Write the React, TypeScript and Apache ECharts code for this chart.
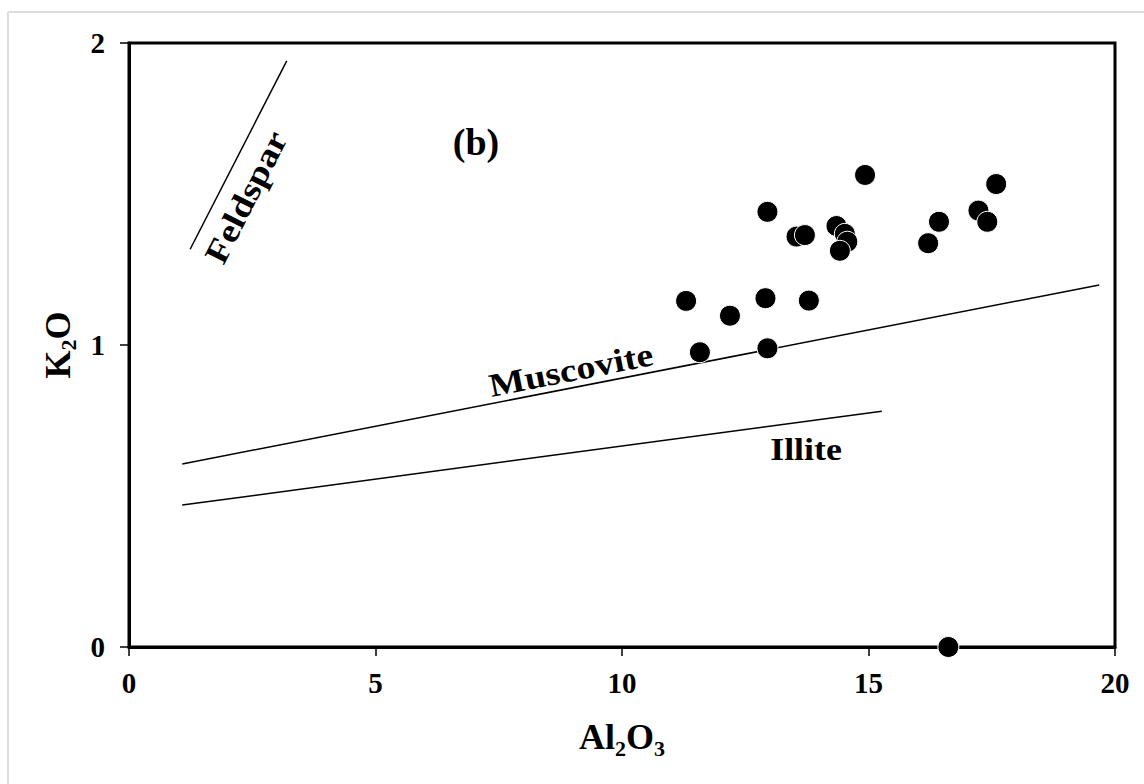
import React, { useEffect, useRef } from "react";
import * as echarts from "echarts";

// Sample points (Al2O3 vs K2O)
const al2o3 = [11.30, 11.58, 12.19, 12.91, 12.95, 12.95, 13.54, 13.71, 13.79, 14.35, 14.52, 14.57, 14.42, 14.93, 16.21, 16.43, 17.23, 17.41, 17.59, 16.62];
const k2o = [1.146, 0.976, 1.097, 1.155, 1.441, 0.989, 1.359, 1.364, 1.147, 1.394, 1.368, 1.342, 1.312, 1.563, 1.337, 1.408, 1.445, 1.408, 1.533, 0];

// Reference mineral lines
const feldsparX = [1.24, 3.2];
const feldsparY = [1.317, 1.941];
const muscoviteX = [1.08, 19.68];
const muscoviteY = [0.606, 1.199];
const illiteX = [1.08, 15.27];
const illiteY = [0.47, 0.781];

const xTicks = [0, 5, 10, 15, 20];
const yTicks = [0, 1, 2];

const FONT = '"Liberation Serif", "Times New Roman", serif';

const pairs = (xs: number[], ys: number[]) => xs.map((x, i) => [x, ys[i]]);

export default function App() {
  const ref = useRef<HTMLDivElement>(null);
  useEffect(() => {
    document.body.style.margin = "0";
    const chart = echarts.init(ref.current!, null, { renderer: "svg" });
    const lineSeries = (name: string, xs: number[], ys: number[]) => ({
      name,
      type: "line",
      data: pairs(xs, ys),
      symbol: "none",
      lineStyle: { color: "#000", width: 1.5 },
      silent: true,
      z: 1,
    });
    const richName = {
      m: { fontFamily: FONT, fontWeight: "bold", fontSize: 36, color: "#000", lineHeight: 36, verticalAlign: "top" },
      s: { fontFamily: FONT, fontWeight: "bold", fontSize: 22, color: "#000", lineHeight: 58 },
    };
    const labelText = (text: string, x: number, y: number, size: number, rot: number, sx = 1) => ({
      type: "text",
      x,
      y,
      rotation: (rot * Math.PI) / 180,
      scaleX: sx,
      z: 10,
      style: {
        text,
        fill: "#000",
        font: `bold ${size}px ${FONT}`,
        align: "center",
        verticalAlign: "middle",
      },
    });
    chart.setOption({
      animation: false,
      backgroundColor: "#fff",
      grid: {
        left: 129,
        top: 43,
        right: 29,
        bottom: 137,
        show: true,
        borderColor: "#000",
        borderWidth: 3,
      },
      xAxis: {
        type: "value",
        min: xTicks[0],
        max: xTicks[xTicks.length - 1],
        interval: 5,
        name: "{m|Al}{s|2}{m|O}{s|3}",
        nameLocation: "middle",
        nameGap: 72,
        nameTextStyle: { rich: richName },
        axisLine: { show: true, onZero: false, lineStyle: { color: "#000", width: 3 } },
        axisTick: { show: true, length: 9, lineStyle: { color: "#000", width: 1.5 } },
        splitLine: { show: false },
        axisLabel: { fontFamily: FONT, fontWeight: "bold", fontSize: 29, color: "#000", margin: 21 },
      },
      yAxis: {
        type: "value",
        min: yTicks[0],
        max: yTicks[yTicks.length - 1],
        interval: 1,
        name: "{m|K}{s|2}{m|O}",
        nameLocation: "middle",
        nameRotate: 90,
        nameGap: 25,
        nameTextStyle: { rich: richName },
        axisLine: { show: true, onZero: false, lineStyle: { color: "#000", width: 3 } },
        axisTick: { show: true, length: 9, lineStyle: { color: "#000", width: 1.5 } },
        splitLine: { show: false },
        axisLabel: { fontFamily: FONT, fontWeight: "bold", fontSize: 29, color: "#000", margin: 24 },
      },
      series: [
        lineSeries("Feldspar", feldsparX, feldsparY),
        lineSeries("Muscovite", muscoviteX, muscoviteY),
        lineSeries("Illite", illiteX, illiteY),
        {
          name: "Samples",
          type: "scatter",
          data: pairs(al2o3, k2o),
          symbol: "circle",
          symbolSize: 21,
          clip: false,
          itemStyle: { color: "#000", borderColor: "#fff", borderWidth: 1, opacity: 1 },
          z: 5,
        },
      ],
      graphic: [
        { type: "line", shape: { x1: 8, y1: 12, x2: 1144, y2: 12 }, style: { stroke: "#dcdcdc", lineWidth: 2 }, z: 0 },
        { type: "line", shape: { x1: 8, y1: 12, x2: 8, y2: 784 }, style: { stroke: "#dcdcdc", lineWidth: 2 }, z: 0 },
        labelText("(b)", 476, 142, 38, 0),
        labelText("Feldspar", 246, 197, 33, 63, 1.15),
        labelText("Muscovite", 571, 370, 33, 11.2, 1.15),
        labelText("Illite", 806, 449, 32, 0, 1.12),
      ],
    });
    return () => chart.dispose();
  }, []);
  return (
    <div
      ref={ref}
      style={{ position: "absolute", left: 0, top: 0, width: 1144, height: 784 }}
    />
  );
}
